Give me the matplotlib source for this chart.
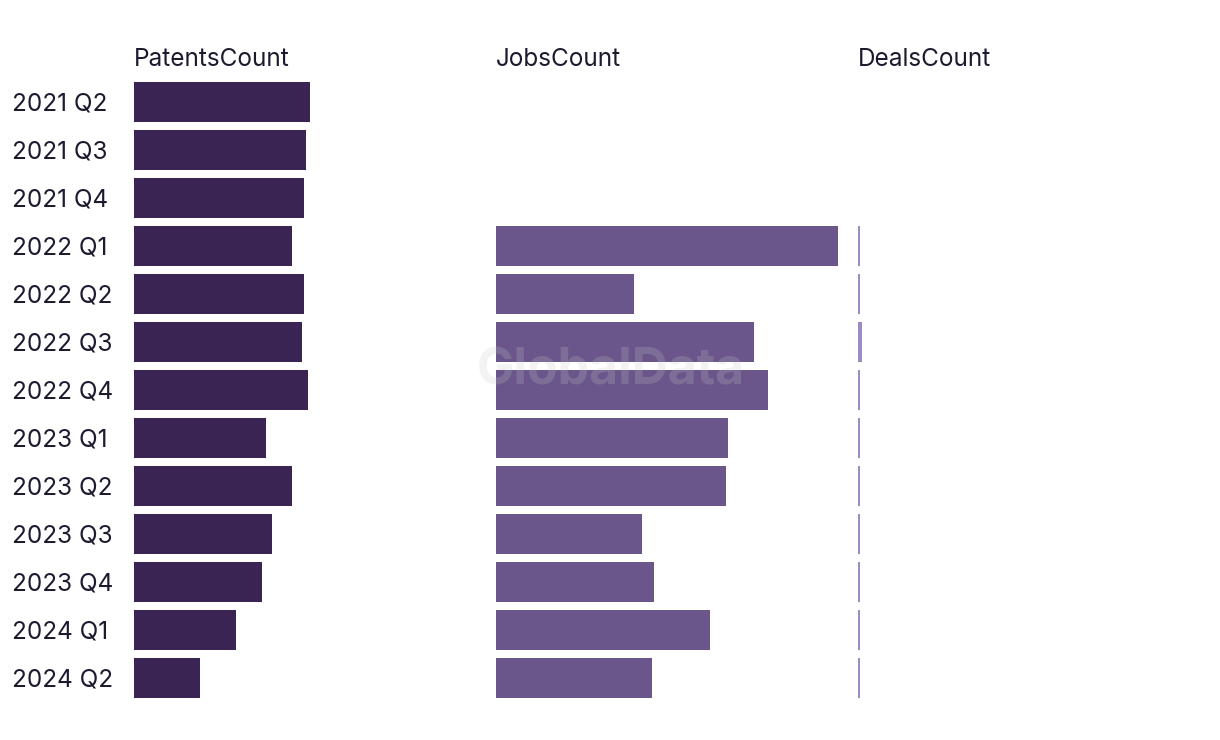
import numpy as np
import matplotlib
matplotlib.use('Agg')
import matplotlib.pyplot as plt
import matplotlib.transforms as mtransforms

quarters = ['2021 Q2', '2021 Q3', '2021 Q4', '2022 Q1', '2022 Q2', '2022 Q3', '2022 Q4',
            '2023 Q1', '2023 Q2', '2023 Q3', '2023 Q4', '2024 Q1', '2024 Q2']
patents = [88, 86, 85, 79, 85, 84, 87, 66, 79, 69, 64, 51, 33]
jobs = [np.nan, np.nan, np.nan, 171, 69, 129, 136, 116, 115, 73, 79, 107, 78]
deals = [np.nan, np.nan, np.nan, 1, 1, 2, 1, 1, 1, 1, 1, 1, 1]

series = [('PatentsCount', patents, '#392454'),
          ('JobsCount', jobs, '#6a568b'),
          ('DealsCount', deals, '#9f8bc4')]

plt.rcParams['font.family'] = ['Inter', 'DejaVu Sans']
text_color = '#1c1a2e'

W, H = 1220, 740
fig = plt.figure(figsize=(W / 100, H / 100), dpi=100)

n = len(quarters)
row = 48
top = 78
panel_w = 362
lefts = [134, 496, 858]
xmax = 181

axes = []
for (name, vals, col), left in zip(series, lefts):
    ax = fig.add_axes([left / W, 1 - (top + n * row) / H, panel_w / W, n * row / H])
    y = np.arange(n)
    ax.barh(y, vals, height=40 / 48, color=col, linewidth=0)
    ax.set_xlim(0, xmax)
    ax.set_ylim(n - 0.5, -0.5)
    ax.axis('off')
    fig.text(left / W, 1 - 59 / H, name, ha='left', va='center', fontsize=17.5, color=text_color)
    axes.append(ax)

# category labels (shifted 2px down to match baseline)
shift = mtransforms.ScaledTranslation(0, -2 / 100, fig.dpi_scale_trans)
trans = mtransforms.blended_transform_factory(fig.transFigure, axes[0].transData) + shift
for i, q in enumerate(quarters):
    fig.text(12 / W, i, q, transform=trans, ha='left', va='center', fontsize=17.5, color=text_color)

# watermark
fig.text(611 / W, 1 - 371 / H, 'GlobalData', ha='center', va='center', fontsize=36,
         fontweight='bold', color='#c8c8c8', alpha=0.21)

fig.savefig('out.png', dpi=100)
